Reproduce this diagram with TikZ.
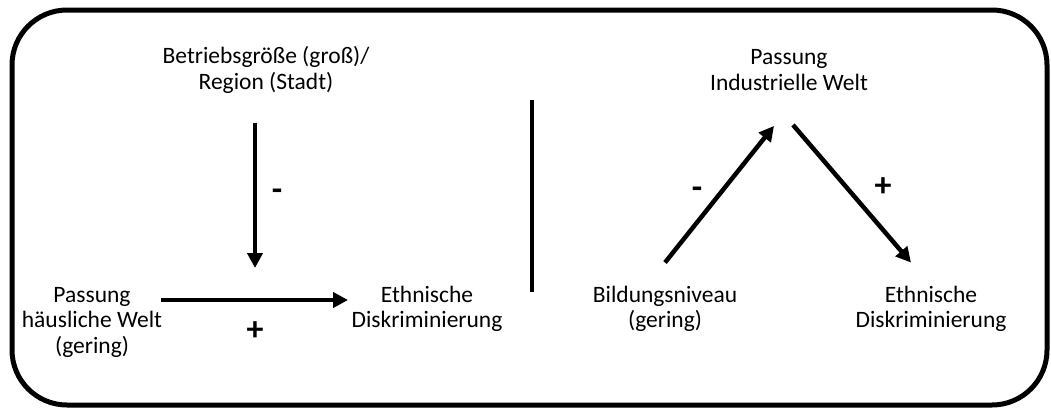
\documentclass[tikz,border=0pt]{standalone}
\usepackage{fontspec}
\setmainfont{Carlito}
\usetikzlibrary{arrows.meta}

\begin{document}
\begin{tikzpicture}[x=1pt, y=-1pt,
  txt/.style={align=center, font=\fontsize{23.5}{25.5}\selectfont},
  arr/.style={line width=4.5pt, -{Triangle[length=15pt,width=15pt]}},
  sign/.style={font=\fontsize{34}{34}\selectfont\bfseries}]
\useasboundingbox (0,0) rectangle (1051,410);

% 外框
\draw[line width=5pt, rounded corners=55pt] (12,10) rectangle (1047,405);

% 左侧
\node[txt] (groesse) at (266,70) {Betriebsgröße (groß)/\\Region (Stadt)};
\node[txt] (haeuslich) at (92,322) {Passung\\häusliche Welt\\(gering)};
\node[txt] (diskrL) at (427,309) {Ethnische\\Diskriminierung};
\coordinate (modtip) at (255,268);

\draw[arr] (groesse.south -| modtip) ++(0,26) -- (modtip);
\draw[arr, shorten <=-5pt] ([yshift=22pt]haeuslich.east) -- ([yshift=22pt]haeuslich.east -| diskrL.west);
\node[sign] (minusL) at (277,195) {-};
\node[sign] (plusL) at (255,331) {+};

% 分隔线
\draw[line width=4pt] (532,100) -- (532,292);

% 右侧
\node[txt] (industriell) at (789,70) {Passung\\Industrielle Welt};
\node[txt] (bildung) at (665,309) {Bildungsniveau\\(gering)};
\node[txt] (diskrR) at (931,309) {Ethnische\\Diskriminierung};

\draw[arr] ([yshift=20pt]bildung.north) -- ([xshift=-15pt,yshift=-32pt]industriell.south);
\draw[arr] ([xshift=4pt,yshift=-31pt]industriell.south) -- ([xshift=-20pt,yshift=20pt]diskrR.north);
\node[sign] (minusR) at (697,193) {-};
\node[sign] (plusR) at (883,187) {+};

\end{tikzpicture}
\end{document}
